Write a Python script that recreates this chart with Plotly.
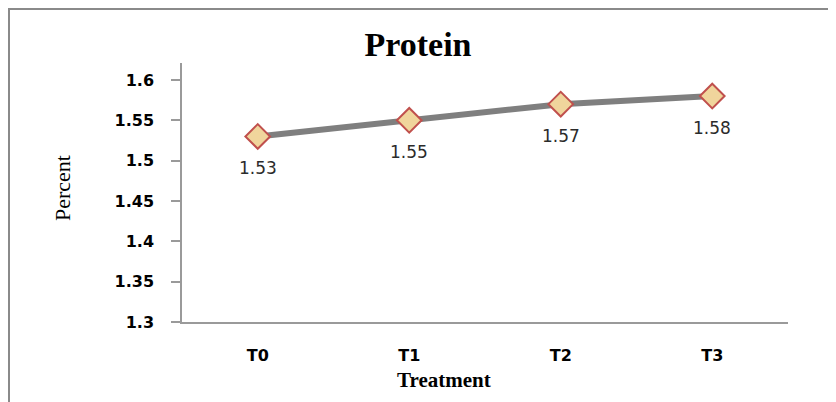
import plotly.graph_objects as go

# data
treatments = ['T0', 'T1', 'T2', 'T3']
protein = [1.53, 1.55, 1.57, 1.58]
labels = ['1.53', '1.55', '1.57', '1.58']
yticks = [1.3, 1.35, 1.4, 1.45, 1.5, 1.55, 1.6]
ytick_text = ['1.3', '1.35', '1.4', '1.45', '1.5', '1.55', '1.6']

W, H = 836, 402
OFF = 8   # page body margin shifts the figure by 8px
# wanted plot area on screen: 182..788 x 63..322
L, T = 182 - OFF, 63 - OFF
pw, ph = 606, 259
R, B = W - L - pw, H - T - ph

def px(x):
    return (x - OFF - L) / pw

def py(y):
    return (T + ph - (y - OFF)) / ph

fig = go.Figure()
fig.add_trace(go.Scatter(
    x=treatments, y=protein, mode='lines+markers',
    line=dict(color='#7f7f7f', width=6),
    marker=dict(symbol='diamond', size=19, color='#f0d59c',
                line=dict(color='#c0504d', width=2)),
    showlegend=False, hoverinfo='skip'))

# data labels under each point
for t, v, s in zip(treatments, protein, labels):
    fig.add_annotation(x=t, y=v, text=s, showarrow=False, yshift=-32,
                       font=dict(family='DejaVu Sans', size=17, color='#2b2b2b'))

# axis titles
fig.add_annotation(xref='paper', yref='paper', x=px(444), y=py(380), text='<b>Treatment</b>',
                   xanchor='center', yanchor='middle', showarrow=False,
                   font=dict(family='Liberation Serif', size=21, color='black'))
fig.add_annotation(xref='paper', yref='paper', x=px(62), y=py(188), text='Percent',
                   xanchor='center', yanchor='middle', textangle=-90, showarrow=False,
                   font=dict(family='Liberation Serif', size=22, color='black'))

# outer chart frame (partly cut off in the reference)
fig.add_shape(type='rect', xref='paper', yref='paper',
              x0=px(9), x1=px(860), y0=py(420), y1=py(9),
              line=dict(color='#8a8a8a', width=2), fillcolor='rgba(0,0,0,0)', layer='below')

fig.update_layout(
    width=W, height=H,
    margin=dict(l=L, r=R, t=T, b=B, autoexpand=False),
    paper_bgcolor='white', plot_bgcolor='white',
    title=dict(text='<b>Protein</b>', x=(418 - OFF) / W, xanchor='center',
               y=1 - (44 - OFF) / H, yanchor='middle', yref='container',
               font=dict(family='Liberation Serif', size=34, color='black')),
    xaxis=dict(type='category', range=[-0.5, 3.5], showgrid=False, automargin=False,
               showline=True, linecolor='#9a9a9a', linewidth=1.5,
               ticks='', ticklabelstandoff=18,
               tickfont=dict(family='DejaVu Sans', size=16, color='black', weight='bold')),
    yaxis=dict(range=[1.3, 1.621], showgrid=False, zeroline=False, automargin=False,
               showline=True, linecolor='#9a9a9a', linewidth=1.5,
               tickvals=yticks, ticktext=ytick_text,
               ticks='outside', ticklen=9, tickcolor='#9a9a9a', tickwidth=1.5,
               ticklabelstandoff=14,
               tickfont=dict(family='DejaVu Sans', size=16, color='black', weight='bold')),
)

fig.write_html('out.html')
